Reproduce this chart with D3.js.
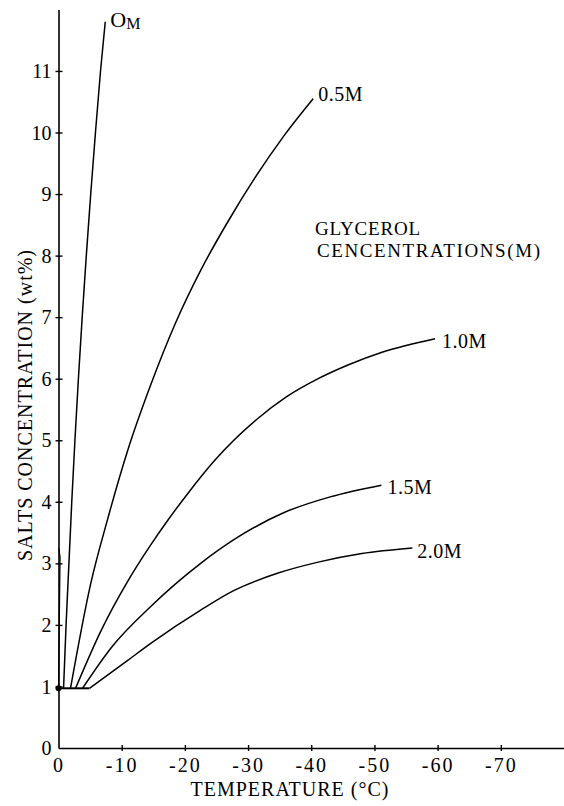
<!DOCTYPE html>
<html>
<head>
<meta charset="utf-8">
<script src="https://cdn.jsdelivr.net/npm/d3@7"></script>
<style>
  body { margin: 0; background: #fff; }
  text { font-family: "Liberation Serif", "Times New Roman", serif; fill: #000; }
</style>
</head>
<body>
<div id="chart"></div>
<script>
// tick values
const xTicks = [0, -10, -20, -30, -40, -50, -60, -70];
const yTicks = [0, 1, 2, 3, 4, 5, 6, 7, 8, 9, 10, 11];

// glycerol concentration curves, [temperature °C, salts wt%]
const curve0M = [[-0.8, 0.97], [-1.2, 2], [-1.65, 3], [-2.1, 4], [-2.6, 5], [-3.15, 6], [-3.75, 7], [-4.4, 8], [-5.1, 9], [-5.85, 10], [-6.65, 11], [-7.4, 11.8]];
const curve05M = [[-1.9, 0.97], [-5.1, 2.67], [-7.7, 3.69], [-11.0, 4.85], [-14.6, 5.9], [-18.5, 6.9], [-22.5, 7.76], [-26.8, 8.55], [-31.0, 9.25], [-35.7, 9.95], [-40.3, 10.55]];
const curve10M = [[-2.7, 0.97], [-6.7, 1.9], [-10.9, 2.7], [-14.6, 3.3], [-17.3, 3.7], [-20.5, 4.14], [-24.7, 4.67], [-31.5, 5.35], [-36.0, 5.7], [-41.1, 6.0], [-46.0, 6.23], [-51.2, 6.43], [-59.6, 6.65]];
const curve15M = [[-3.8, 0.97], [-8.5, 1.65], [-14.6, 2.3], [-22.5, 3.0], [-28.0, 3.4], [-35.8, 3.83], [-43.0, 4.08], [-51.1, 4.27]];
const curve20M = [[-4.9, 0.97], [-10.9, 1.42], [-14.6, 1.7], [-22.5, 2.24], [-27.8, 2.56], [-35.0, 2.85], [-41.1, 3.02], [-48.0, 3.16], [-56.0, 3.25]];
const baseLine = [[0, 0.97], [-4.9, 0.97]];
const axisLine = [[0, 0.97], [-0.25, 3.1], [-0.05, 3.25]];

const seriesNames = ["0.5M", "1.0M", "1.5M", "2.0M"];
const seriesData = [curve05M, curve10M, curve15M, curve20M];

const width = 564, height = 806;

const svg = d3.select("#chart").append("svg")
    .attr("width", width)
    .attr("height", height);

const x = d3.scaleLinear().domain([0, -80]).range([58.5, 564]);
const y = d3.scaleLinear().domain([0, 12]).range([748, 9.4]);

// x axis
const xAxis = svg.append("g")
    .attr("transform", `translate(0,${y(0)})`)
    .call(d3.axisBottom(x).tickValues(xTicks).tickSizeOuter(0)
        .tickFormat(d => d === 0 ? "0" : "-" + Math.abs(d)));
xAxis.select(".domain").attr("stroke-width", 1.6);
xAxis.selectAll(".tick line").attr("y1", -3).attr("y2", 3).attr("stroke-width", 1.4);
xAxis.selectAll(".tick text")
    .attr("y", 24).attr("dy", 0)
    .attr("font-size", 20).attr("letter-spacing", 2)
    .attr("font-family", "Liberation Serif");
xAxis.selectAll(".tick").filter(d => d === 0).select("line").remove();

// y axis
const yAxis = svg.append("g")
    .attr("transform", `translate(${x(0)},0)`)
    .call(d3.axisLeft(y).tickValues(yTicks).tickSizeOuter(0));
yAxis.select(".domain").attr("stroke-width", 1.6);
yAxis.selectAll(".tick line").attr("x1", -3).attr("x2", 4).attr("stroke-width", 1.4);
yAxis.selectAll(".tick text")
    .attr("x", -7).attr("dy", "0.33em")
    .attr("font-size", 20)
    .attr("font-family", "Liberation Serif");
yAxis.selectAll(".tick").filter(d => d === 0).select("line").remove();

// curves
const line = d3.line()
    .x(d => x(d[0]))
    .y(d => y(d[1]))
    .curve(d3.curveMonotoneX);

[curve0M].concat(seriesData).forEach(c => {
    svg.append("path")
        .attr("d", line(c))
        .attr("fill", "none")
        .attr("stroke", "#000")
        .attr("stroke-width", 1.5);
});

svg.append("path")
    .attr("d", d3.line().x(d => x(d[0])).y(d => y(d[1]))(baseLine))
    .attr("fill", "none").attr("stroke", "#000").attr("stroke-width", 2);
svg.append("path")
    .attr("d", d3.line().x(d => x(d[0])).y(d => y(d[1]))(axisLine))
    .attr("fill", "none").attr("stroke", "#000").attr("stroke-width", 1.2);
svg.append("circle")
    .attr("cx", x(baseLine[0][0])).attr("cy", y(baseLine[0][1]))
    .attr("r", 3).attr("fill", "#000");

// curve end labels
const labelOffsets = [[5, 2], [7, 9], [6, 9], [5, 10]];
seriesData.forEach((c, i) => {
    const last = c[c.length - 1];
    svg.append("text")
        .attr("x", x(last[0]) + labelOffsets[i][0])
        .attr("y", y(last[1]) + labelOffsets[i][1])
        .attr("font-size", 20)
        .attr("letter-spacing", 0.5)
        .text(seriesNames[i]);
});

const top0 = curve0M[curve0M.length - 1];
const lbl0 = svg.append("text")
    .attr("x", x(top0[0]) + 5)
    .attr("y", y(top0[1]) + 5);
lbl0.append("tspan").attr("font-size", 22).text("O");
lbl0.append("tspan").attr("font-size", 16).attr("dy", 2).text("M");

// legend title
svg.append("text")
    .attr("x", 315).attr("y", 235)
    .attr("font-size", 19).attr("letter-spacing", 0.8)
    .text("GLYCEROL");
svg.append("text")
    .attr("x", 317).attr("y", 257)
    .attr("font-size", 19).attr("letter-spacing", 1.6)
    .text("CENCENTRATIONS(M)");

// axis titles
svg.append("text")
    .attr("x", 290).attr("y", 796)
    .attr("text-anchor", "middle")
    .attr("font-size", 20).attr("letter-spacing", 1)
    .text("TEMPERATURE (°C)");

svg.append("text")
    .attr("transform", "translate(32,405) rotate(-90)")
    .attr("text-anchor", "middle")
    .attr("font-size", 20).attr("letter-spacing", 1)
    .text("SALTS CONCENTRATION (wt%)");
</script>
</body>
</html>
